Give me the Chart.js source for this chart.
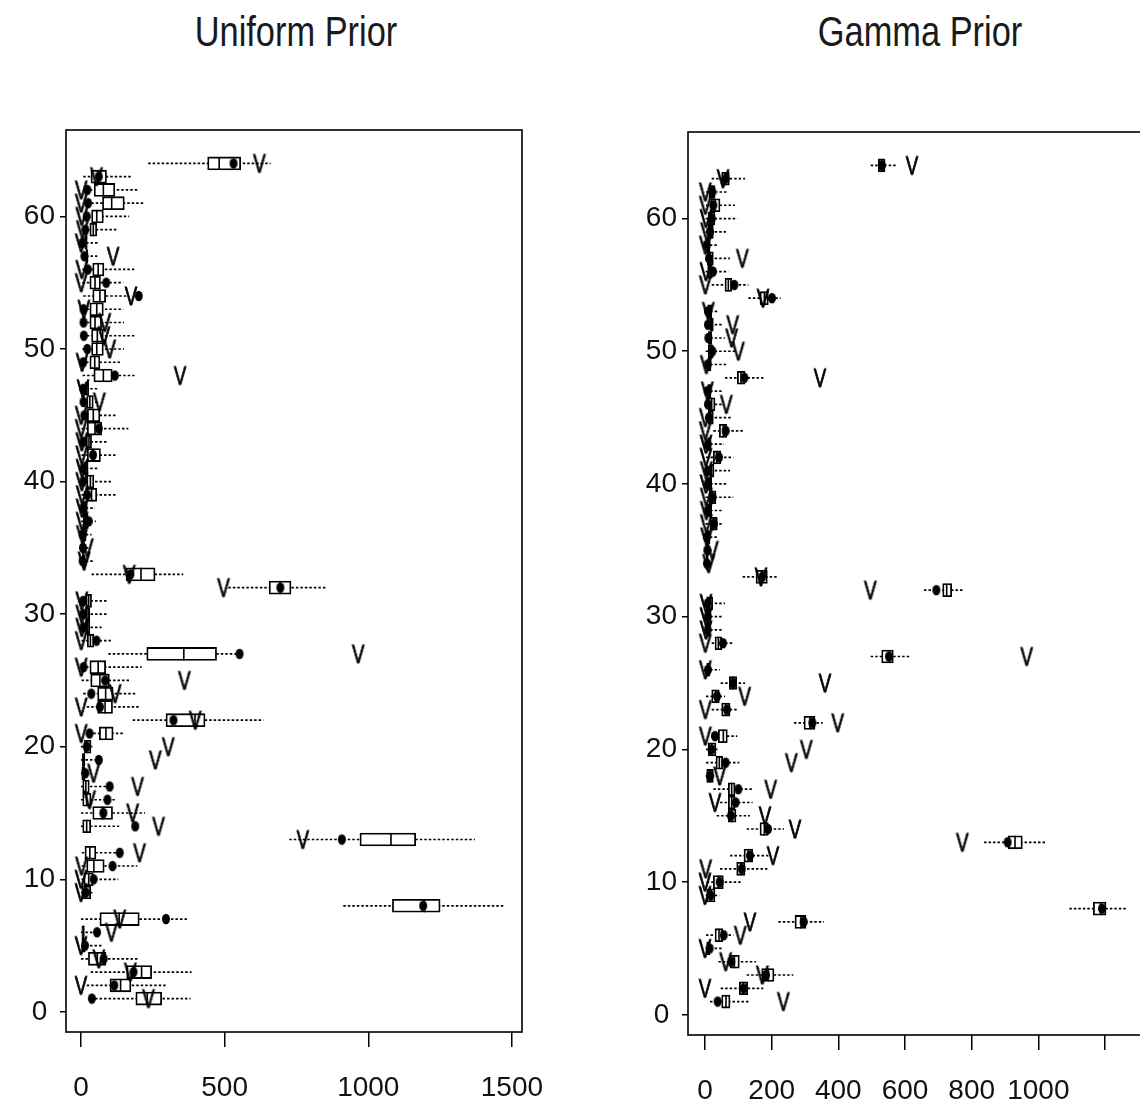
<!DOCTYPE html>
<html><head><meta charset="utf-8">
<script src="https://cdn.jsdelivr.net/npm/chart.js@4.4.1/dist/chart.umd.min.js"></script>
<style>
html,body{margin:0;padding:0;background:#fff;width:1140px;height:1108px;overflow:hidden;position:relative;}
canvas{position:absolute;top:0;}
#cL{left:0;} #cR{left:622px;}
.ttl{position:absolute;top:10px;font-size:43px;line-height:43px;font-family:'Liberation Sans Narrow','Liberation Sans',sans-serif;color:#1a1a1a;white-space:nowrap;transform:translateX(-50%) scaleX(0.8);transform-origin:50% 50%;}
</style></head><body>
<div class="ttl" style="left:296px">Uniform Prior</div>
<div class="ttl" style="left:920px">Gamma Prior</div>
<canvas id="cL" width="570" height="1108"></canvas>
<canvas id="cR" width="578" height="1108"></canvas>
<script>
// ---- categories (row index, bottom to top) ----
const rows = [1,2,3,4,5,6,7,8,9,10,11,12,13,14,15,16,17,18,19,20,21,22,23,24,25,26,27,28,29,30,31,32,
              33,34,35,36,37,38,39,40,41,42,43,44,45,46,47,48,49,50,51,52,53,54,55,56,57,58,59,60,61,62,63,64];
// ---- shared markers: "V" (true value) and filled dot (point estimate) ----
const trueValues = [235,0,172,62,0,106,135,null,0,0, 2,204,772,270,180,30,197,44,259,304,
                    1,398,1,119,360,1,965,1,3,3, 3,496,168,11,22,5,4,4,4,3,
                    4,3,3,1,1,64,7,345,4,100, 80,83,10,174,1,3,112,1,5,3, 1,1,54,621];
const pointEstimates = [38,116,183,79,14,56,296,1191,17,44, 110,135,908,189,78,92,100,15,62,20,
                        30,322,66,36,84,9,552,54,8,8, 8,694,172,6,7,6,27,8,22,8,
                        8,42,8,62,12,9,8,118,8,22, 10,9,9,201,88,24,12,5,15,20, 25,22,62,531];
// ---- Uniform prior box plots ----
const uniformLow = [49,20,34,0,0,0,0,913,0,2, 3,3,725,0,0,0,0,0,0,0, 43,180,20,8,2,2,95,2,2,2,
                    2,513,37,1,1,1,1,1,2,2, 1,2,2,2,2,2,1,6,2,5, 5,5,5,8,5,5,2,2,5,8, 20,15,8,234];
const uniformQ1 = [191,101,159,26,3,3,66,1084,3,10, 20,14,971,6,41,6,6,3,5,12, 64,296,58,58,34,31,229,22,17,17,
                   17,655,157,5,4,5,8,8,20,20, 10,22,18,22,22,20,14,45,31,37, 37,31,31,41,31,41,18,14,31,37, 75,46,35,441];
const uniformMedian = [231,138,211,57,8,8,133,1195,15,27, 45,31,1079,20,75,20,17,8,10,20, 87,397,84,86,66,60,358,33,24,25,
                       27,693,209,9,8,10,15,14,37,33, 17,40,28,49,43,31,20,78,48,55, 57,49,55,66,49,60,21,18,43,55, 107,78,60,481];
const uniformQ3 = [281,174,246,87,15,12,203,1250,34,43, 81,52,1165,34,110,35,29,14,14,35, 112,432,110,112,99,86,472,45,31,31,
                   37,731,258,14,12,18,25,22,55,45, 25,68,37,72,66,43,27,109,66,78, 78,72,78,86,68,80,24,22,55,78, 151,118,89,556];
const uniformHigh = [382,298,385,197,78,60,370,1472,43,130, 196,130,1371,133,223,118,95,31,55,42, 153,635,203,194,168,211,540,110,72,89,
                     95,855,356,41,31,37,52,49,126,110, 60,124,95,165,126,57,60,194,136,150, 188,150,147,159,147,191,57,64,126,168, 217,196,180,660];
// ---- Gamma prior box plots ----
const gammaLow = [15,47,125,40,2,3,220,1093,2,5, 45,75,837,125,35,45,25,2,3,3, 25,267,20,3,47,2,497,20,2,2,
                  2,657,113,1,1,1,2,2,2,2, 2,3,2,25,2,2,2,60,2,2, 2,2,2,130,20,2,2,1,2,2, 3,3,20,497];
const gammaQ1 = [50,103,170,75,5,30,270,1165,5,25, 95,117,910,165,70,70,70,5,33,10, 40,297,50,20,73,5,530,30,5,5,
                 5,713,153,3,3,5,15,8,13,8, 15,25,8,43,10,10,8,97,8,10, 10,15,8,165,60,8,7,5,10,10, 17,13,50,520];
const gammaMedian = [63,115,190,88,10,42,288,1187,18,40, 108,130,930,178,80,80,80,15,43,20, 55,315,62,32,83,10,553,40,10,10,
                     13,725,170,6,6,10,25,14,22,14, 20,35,12,55,17,20,12,108,12,18, 15,20,14,178,70,15,15,10,17,20, 30,22,60,530];
const gammaQ3 = [75,128,207,103,15,53,303,1203,30,55, 120,143,952,190,93,90,90,25,53,33, 67,330,75,43,95,15,565,50,15,18,
                 23,740,187,10,10,15,37,20,33,20, 27,47,18,65,25,30,18,120,18,25, 20,25,20,190,80,22,25,15,25,30, 45,30,73,540];
const gammaHigh = [132,175,265,153,50,85,357,1265,43,110, 187,190,1025,237,135,143,143,30,103,40, 97,353,95,60,120,45,615,83,53,50,
                   60,777,215,20,20,37,53,55,85,67, 75,85,57,117,80,50,50,177,65,95, 60,55,40,227,130,70,75,40,63,97, 90,70,120,575];
// ---- tick labels ----
const yTicks = [0,10,20,30,40,50,60];
const uniformXTicks = [0,500,1000,1500];
const gammaXTicks = [0,200,400,600,800,1000,1200];
const gammaXLabels = ['0','200','400','600','800','1000',''];

const FONT = "'Liberation Sans Narrow','Liberation Sans',sans-serif";

function makeV(){
  const c = document.createElement('canvas');
  c.width = 18; c.height = 22;
  const g = c.getContext('2d');
  g.font = "25px 'Liberation Sans', sans-serif";
  g.textAlign = 'center';
  g.textBaseline = 'alphabetic';
  g.fillStyle = '#000';
  g.strokeStyle = '#000';
  g.lineWidth = 0.8;
  g.translate(9, 20);
  g.scale(0.75, 1);
  g.fillText('V', 0, 0);
  g.strokeText('V', 0, 0);
  return c;
}
function makeDot(){
  const c = document.createElement('canvas');
  c.width = 10; c.height = 12;
  const g = c.getContext('2d');
  g.fillStyle = '#000';
  g.beginPath();
  g.ellipse(5, 6, 4, 5.3, 0, 0, Math.PI * 2);
  g.fill();
  return c;
}
const vMark = makeV();
const dotMark = makeDot();

const framePlugin = {
  id: 'frame',
  afterDatasetsDraw(chart){
    const {ctx, chartArea:a} = chart;
    ctx.save();
    ctx.strokeStyle = '#000';
    ctx.lineWidth = 1.6;
    ctx.strokeRect(a.left, a.top, a.right - a.left, a.bottom - a.top);
    ctx.restore();
  }
};

function buildPanel(id, low, q1, med, q3, high, xMin, xMax, xTicks, xLabels, pad){
  const whisk = [];
  rows.forEach((r,i)=>{ whisk.push({x:low[i],y:r},{x:high[i],y:r},{x:null,y:null}); });
  return new Chart(document.getElementById(id), {
    type: 'scatter',
    data: { datasets: [
      { type:'scatter', data: rows.map((r,i)=>({x:trueValues[i], y:r})), pointStyle: vMark, pointRadius: 9, order: 1 },
      { type:'scatter', data: rows.map((r,i)=>({x:pointEstimates[i], y:r})), pointStyle: dotMark, pointRadius:5, order: 2 },
      { type:'scatter', data: rows.map((r,i)=>({x:med[i], y:r})), pointStyle:'line', pointRotation:90, pointRadius:6.5,
        pointBorderColor:'#000', pointBorderWidth:1.6, order: 3 },
      { type:'bar', indexAxis:'y', data: rows.map((r,i)=>({x:[q1[i], q3[i]], y:r})), backgroundColor:'#fff',
        borderColor:'#000', borderWidth:1.8, borderSkipped:false, barThickness:13, order: 4 },
      { type:'line', data: whisk, borderColor:'#000', borderWidth:1.7, borderDash:[2.5,2], pointRadius:0,
        spanGaps:false, fill:false, tension:0, order: 5 }
    ]},
    options: {
      responsive:false, animation:false, events:[],
      layout:{ padding:{ top:pad.top, right:pad.right, bottom:pad.bottom, left:0 } },
      plugins:{ legend:{display:false}, tooltip:{enabled:false}, title:{display:false} },
      scales:{
        x:{ type:'linear', min:xMin, max:xMax, offset:false,
            afterBuildTicks: s => { s.ticks = xTicks.map(v => ({value:v})); },
            afterFit: s => { s.height = 72; },
            ticks:{ font:{family:FONT, size:28}, color:'#111', padding:24, maxRotation:0, autoSkip:false,
                    callback:(v)=>{ const k = xTicks.indexOf(v); return k >= 0 ? xLabels[k] : ''; } },
            grid:{ offset:false, drawOnChartArea:false, drawTicks:true, tickLength:15, color:'#000', lineWidth:1.5 },
            border:{ display:false } },
        y:{ type:'linear', min:-1.52, max:66.52, offset:false,
            afterBuildTicks: s => { s.ticks = yTicks.map(v => ({value:v})); },
            afterFit: s => { s.width = 66; },
            ticks:{ font:{family:FONT, size:28}, color:'#111', padding:5, crossAlign:'center', autoSkip:false,
                    callback:(v)=>String(v) },
            grid:{ offset:false, drawOnChartArea:false, drawTicks:true, tickLength:6, color:'#000', lineWidth:1.5 },
            border:{ display:false } }
      }
    },
    plugins:[framePlugin]
  });
}

buildPanel('cL', uniformLow, uniformQ1, uniformMedian, uniformQ3, uniformHigh, -52, 1535,
           uniformXTicks, uniformXTicks.map(String), {top:130, right:48, bottom:4});
buildPanel('cR', gammaLow, gammaQ1, gammaMedian, gammaQ3, gammaHigh, -51, 1317,
           gammaXTicks, gammaXLabels, {top:132, right:56, bottom:1});
</script>
</body></html>
